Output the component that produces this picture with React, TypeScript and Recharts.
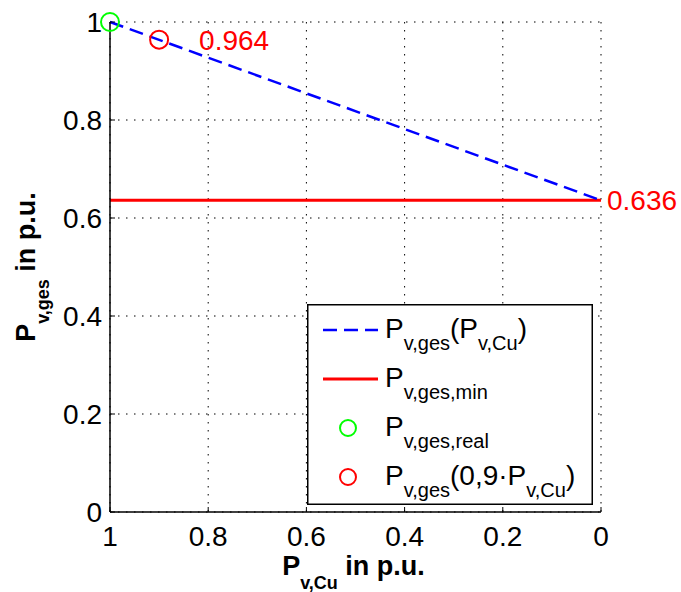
import {
  ComposedChart, Line, Scatter, XAxis, YAxis, CartesianGrid,
  ReferenceLine, Legend,
} from "recharts"

const FONT = "'Liberation Sans', Arial, Helvetica, sans-serif"

// P_v,Cu (x, reversed axis) vs. P_v,ges
const curveX = [1, 0]
const curveY = [1, 0.636]
const minLevel = 0.636
const realPoint = [{ x: 1, y: 1 }]
const reducedPoint = [{ x: 0.9, y: 0.964 }]

const xTicks = [1, 0.8, 0.6, 0.4, 0.2, 0]
const yTicks = [0, 0.2, 0.4, 0.6, 0.8, 1]

// legend text, alternating normal / subscript pieces
const legendLabels = [
  ["P", "v,ges", "(P", "v,Cu", ")"],
  ["P", "v,ges,min"],
  ["P", "v,ges,real"],
  ["P", "v,ges", "(0,9·P", "v,Cu", ")"],
]

const curveData = curveX.map((x, i) => ({ x, y: curveY[i] }))

const BLUE = "#0000ff"
const RED = "#ff0000"
const GREEN = "#00ff00"
const DASH = "14 7"

function SubText({ parts, x, y, size, sub, shift, ...rest }: any) {
  return (
    <text x={x} y={y} fontSize={size} fontFamily={FONT} fill="#000" {...rest}>
      {parts.map((p: string, i: number) => {
        const isSub = i % 2 === 1
        const dy = i === 0 ? 0 : isSub ? shift : -shift
        return (
          <tspan key={i} dy={dy} fontSize={isSub ? sub : size}>
            {p}
          </tspan>
        )
      })}
    </text>
  )
}

function LegendBox() {
  const rows = [26, 75, 124, 173]
  return (
    <svg width={286} height={201} style={{ display: "block" }}>
      <rect x={0.75} y={0.75} width={284.5} height={199.5} fill="#fff" stroke="#000" strokeWidth={1.5} />
      <line x1={16} x2={71} y1={rows[0]} y2={rows[0]} stroke={BLUE} strokeWidth={2.5} strokeDasharray={DASH} />
      <line x1={16} x2={71} y1={rows[1]} y2={rows[1]} stroke={RED} strokeWidth={3} />
      <circle cx={41} cy={rows[2]} r={8} fill="none" stroke={GREEN} strokeWidth={2} />
      <circle cx={41} cy={rows[3]} r={8} fill="none" stroke={RED} strokeWidth={2} />
      {legendLabels.map((parts, i) => (
        <SubText key={i} parts={parts} x={78} y={rows[i] + 8} size={28} sub={20} shift={12} />
      ))}
    </svg>
  )
}

function XTitle({ viewBox }: any) {
  const { x, y, width } = viewBox
  return (
    <SubText
      parts={["P", "v,Cu", " in p.u."]}
      x={x + width / 2 - 2}
      y={y + 63}
      size={27}
      sub={18}
      shift={14}
      fontWeight="bold"
      textAnchor="middle"
    />
  )
}

function YTitle({ viewBox }: any) {
  const { x, y, height } = viewBox
  const cx = x + 35
  const cy = y + height / 2
  return (
    <SubText
      parts={["P", "v,ges", " in p.u."]}
      x={cx}
      y={cy}
      size={27}
      sub={18}
      shift={14}
      fontWeight="bold"
      textAnchor="middle"
      transform={`rotate(-90, ${cx}, ${cy})`}
    />
  )
}

const ring = (color: string, withLabel: boolean) => (props: any) => {
  const { cx, cy, payload } = props
  return (
    <g>
      <circle cx={cx} cy={cy} r={9} fill="none" stroke={color} strokeWidth={2} />
      {withLabel && (
        <text x={cx + 40} y={cy + 10} fill={RED} fontSize={28} fontFamily={FONT}>
          {payload.y.toFixed(3)}
        </text>
      )}
    </g>
  )
}

const tickStyle = { fontSize: 28, fill: "#000", fontFamily: FONT }

export default function App() {
  return (
    <div style={{ position: "absolute", left: 0, top: 0, width: 681, height: 592, background: "#fff", fontFamily: FONT }}>
      <ComposedChart width={681} height={592} margin={{ top: 22, right: 80, bottom: 0, left: 0 }}>
        <CartesianGrid stroke="#000" strokeDasharray="1.5 6.5" />
        <XAxis
          dataKey="x"
          type="number"
          domain={[0, 1]}
          ticks={xTicks}
          reversed
          height={80}
          tickSize={-5}
          tickMargin={19}
          tick={tickStyle}
          axisLine={{ stroke: "#000", strokeWidth: 1.5 }}
          tickLine={{ stroke: "#000" }}
          label={{ content: XTitle }}
        />
        <XAxis
          xAxisId="top"
          orientation="top"
          type="number"
          domain={[0, 1]}
          ticks={xTicks}
          reversed
          height={0}
          tickSize={-5}
          tick={false}
          axisLine={{ stroke: "#000", strokeWidth: 1.5 }}
          tickLine={{ stroke: "#000" }}
        />
        <YAxis
          type="number"
          domain={[0, 1]}
          ticks={yTicks}
          width={110}
          tickSize={-5}
          tickMargin={13}
          tick={tickStyle}
          axisLine={{ stroke: "#000", strokeWidth: 1.5 }}
          tickLine={{ stroke: "#000" }}
          label={{ content: YTitle }}
        />
        <YAxis
          yAxisId="right"
          orientation="right"
          type="number"
          domain={[0, 1]}
          ticks={yTicks}
          width={0}
          tickSize={-5}
          tick={false}
          axisLine={{ stroke: "#000", strokeWidth: 1.5 }}
          tickLine={{ stroke: "#000" }}
        />
        <ReferenceLine
          y={minLevel}
          stroke={RED}
          strokeWidth={3}
          label={{ value: minLevel.toFixed(3), position: "right", offset: 6, fill: RED, fontSize: 28, fontFamily: FONT }}
        />
        <Line
          data={curveData}
          dataKey="y"
          stroke={BLUE}
          strokeWidth={2.5}
          strokeDasharray={DASH}
          dot={false}
          activeDot={false}
          isAnimationActive={false}
        />
        <Scatter data={realPoint} dataKey="y" shape={ring(GREEN, false)} isAnimationActive={false} />
        <Scatter data={reducedPoint} dataKey="y" shape={ring(RED, true)} isAnimationActive={false} />
        <Legend
          layout="vertical"
          align="center"
          verticalAlign="middle"
          wrapperStyle={{ left: 307, top: 304, width: 286, height: 201 }}
          content={() => <LegendBox />}
        />
      </ComposedChart>
    </div>
  )
}
